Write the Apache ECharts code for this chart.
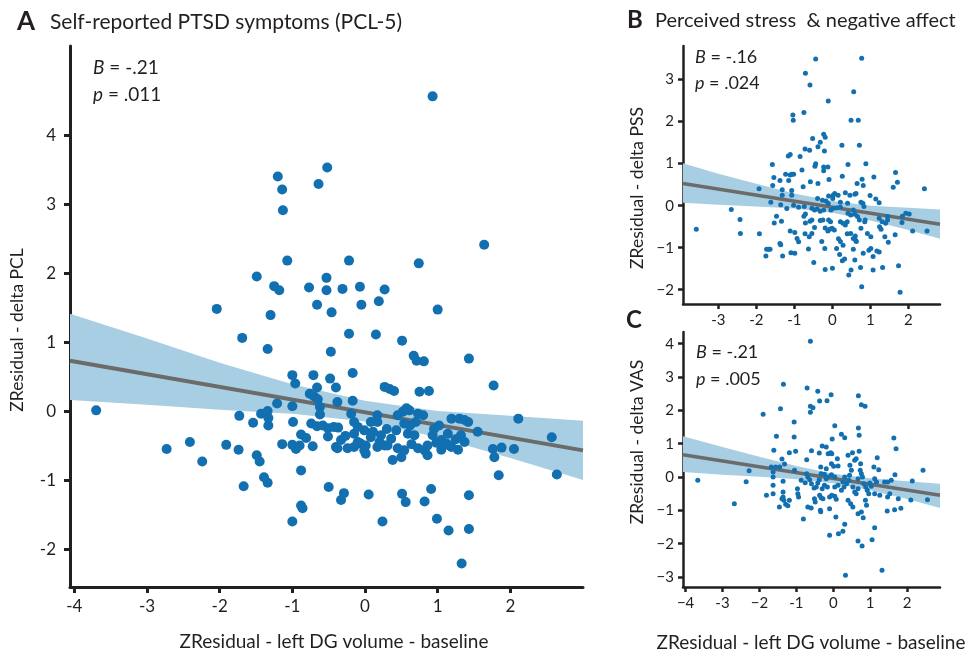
<!DOCTYPE html>
<html><head><meta charset="utf-8">
<script src="https://cdn.jsdelivr.net/npm/echarts@6/dist/echarts.min.js"></script>
<style>html,body{margin:0;padding:0;background:#fff}#c{width:970px;height:655px}</style>
</head><body><div id="c"></div>
<script>
// ---------- DATA ----------
const ptsA = [
[0.93,4.57],[-0.52,3.54],[-1.20,3.41],[-0.64,3.30],[-1.14,3.22],[-1.13,2.92],
[1.64,2.42],[-1.07,2.19],[-0.22,2.19],[0.74,2.15],
[-1.49,1.96],[-0.53,1.94],[-1.25,1.82],[-1.18,1.76],[-0.77,1.80],[-0.53,1.76],[-0.31,1.78],[-0.07,1.81],[0.27,1.77],
[-2.04,1.49],[-1.30,1.40],[-0.66,1.55],[-0.46,1.44],[-0.05,1.55],[0.19,1.60],[1.00,1.48],
[-1.69,1.07],[-1.34,0.91],[-0.47,0.87],[-0.22,1.13],[0.15,1.12],[0.51,1.03],
[0.67,0.81],[0.71,0.74],[0.81,0.73],[1.43,0.77],
[-1.00,0.53],[-0.96,0.41],[-0.71,0.53],[-0.66,0.35],[-0.48,0.48],[-0.40,0.35],[-0.17,0.56],
[-0.76,0.26],[-0.70,0.22],[-0.65,0.18],[-0.62,0.07],[-0.62,-0.04],
[-0.38,0.14],[-0.17,0.16],
[0.27,0.36],[0.34,0.33],[0.40,0.30],[0.75,0.29],[0.88,0.30],[1.77,0.38],
[-1.21,0.12],[-1.00,0.08],[-0.99,-0.15],
[-1.73,-0.06],[-1.54,-0.16],[-1.43,-0.03],[-1.34,0.01],[-1.33,-0.09],[-1.33,-0.20],
[-3.70,0.02],
[-2.73,-0.54],[-2.41,-0.44],[-2.24,-0.72],[-1.91,-0.48],[-1.74,-0.55],
[-1.49,-0.63],[-1.45,-0.72],[-1.67,-1.08],[-1.39,-0.95],[-1.34,-1.03],
[-1.14,-0.47],[-1.00,-0.48],[-0.95,-0.54],[-0.90,-0.49],[-0.88,-0.33],[-0.81,-0.38],[-0.72,-0.50],
[-0.88,-0.85],[-0.88,-1.36],[-0.86,-1.40],[-1.00,-1.59],
[-0.74,-0.17],[-0.66,-0.21],[-0.58,-0.20],[-0.51,-0.24],[-0.51,-0.36],[-0.43,-0.22],[-0.37,-0.23],
[-0.40,-0.51],[-0.33,-0.41],[-0.24,-0.53],[-0.15,-0.51],[-0.06,-0.46],[-0.01,-0.56],[0.01,-0.61],[0.08,-0.37],[0.17,-0.51],[0.27,-0.49],[0.36,-0.39],[0.43,-0.27],
[0.52,0.00],[0.61,0.02],[0.73,-0.03],[0.54,-0.17],[0.59,-0.32],[0.68,-0.34],[0.73,-0.53],[0.82,-0.56],[0.86,-0.63],[0.93,-0.34],
[1.05,-0.41],[1.12,-0.46],[1.19,-0.51],[1.19,-0.10],[1.30,-0.10],[1.37,-0.12],[1.42,-0.15],[1.32,-0.34],[1.37,-0.44],
[0.38,-0.70],[0.50,-0.66],[0.54,-0.56],[1.55,-0.29],
[-0.15,-0.15],[-0.10,-0.22],[-0.01,-0.27],[0.08,-0.15],[0.17,-0.15],[-0.19,-0.03],[-0.15,-0.32],
[1.02,-0.20],[0.86,-0.49],[1.14,-0.32],[1.16,-0.49],
[0.17,-0.05],[0.57,0.05],[0.80,-0.05],[0.11,-0.29],[0.22,-0.34],[0.31,-0.49],[0.45,-0.53],[0.64,-0.47],
[-0.10,-0.44],[0.01,-0.49],[-0.38,-0.53],[0.98,-0.45],[1.25,-0.40],[0.20,-0.44],[0.30,-0.25],[-0.27,-0.35],
[0.45,-0.05],[0.62,-0.20],[0.70,-0.15],[0.95,-0.25],[1.05,-0.55],[1.28,-0.55],
[2.11,-0.10],[2.57,-0.37],[2.64,-0.91],[2.05,-0.54],[1.88,-0.52],[1.76,-0.54],[1.78,-0.66],[1.84,-0.92],
[-0.50,-1.09],[-0.29,-1.18],[-0.33,-1.28],[0.05,-1.20],[0.24,-1.59],[0.51,-1.19],[0.56,-1.31],[0.91,-1.12],[0.82,-1.30],[0.99,-1.55],[1.15,-1.72],[1.43,-1.70],[1.43,-1.21],[1.33,-2.20]
];
const ptsB = [
[-0.44,3.49],[0.77,3.51],[-0.71,3.15],[-0.59,2.87],[0.56,2.71],[-0.11,2.49],[-0.75,2.22],[-1.04,2.16],[-1.03,2.03],[0.49,2.03],[0.68,2.03],
[-0.52,1.60],[-0.23,1.70],[-0.19,1.63],[-0.32,1.51],[-0.38,1.40],[-0.72,1.35],[-0.60,1.32],[-0.21,1.30],[0.25,1.44],[0.71,1.44],
[-1.16,1.18],[-1.11,1.22],[-0.85,1.17],[-1.58,0.98],[-0.46,0.94],[-0.44,1.00],[-0.23,0.92],[-0.12,0.92],[0.41,0.98],[0.88,1.00],
[-0.80,0.85],[-0.23,0.83],[-1.07,0.75],[-1.02,0.75],[-1.11,0.73],[-1.23,0.75],[-1.54,0.67],[-1.38,0.60],[-1.15,0.60],[-0.58,0.57],[-0.38,0.53],[-0.09,0.62],[0.26,0.70],[0.78,0.63],[1.09,0.68],[0.81,0.48],[0.65,0.53],
[-1.57,0.48],[-1.93,0.40],[-0.77,0.45],[1.66,0.79],[1.71,0.56],[1.60,0.44],[2.42,0.40],
[-1.32,0.38],[-1.32,0.25],[-1.07,0.36],[-1.07,0.25],[-1.62,0.08],[-1.36,0.02],[-1.20,-0.07],[-1.02,0.01],[-0.89,-0.04],[-0.74,-0.02],
[-0.39,0.17],[-0.10,0.23],[0.02,0.25],[0.06,0.29],[0.15,0.25],[0.01,0.17],[0.34,0.31],[0.46,0.25],[0.59,0.27],[0.62,0.29],
[0.99,0.24],[1.14,0.16],[1.23,0.07],[0.75,0.08],[0.80,0.06],[0.83,-0.02],[0.21,0.08],[0.40,0.06],[-0.26,0.13],[-0.17,0.11],[-0.11,0.05],
[-0.54,-0.06],[-0.47,-0.10],[-0.40,-0.08],[-0.32,-0.13],[-0.23,-0.10],[-0.04,-0.10],[0.04,-0.06],[0.12,-0.05],[0.21,-0.04],
[0.55,-0.10],[0.59,-0.20],[0.66,-0.26],[0.71,-0.34],[0.85,-0.38],[0.41,-0.18],[0.48,-0.22],[-0.71,-0.20],[-0.75,-0.25],
[-1.47,-0.25],[-1.53,-0.41],[-1.34,-0.37],[-1.11,-0.60],[-0.99,-0.64],[-0.59,-0.37],[-0.54,-0.34],[-0.32,-0.35],[-0.25,-0.34],[-0.10,-0.34],[-0.05,-0.38],
[0.21,-0.38],[0.28,-0.42],[0.34,-0.46],[0.39,-0.38],[-0.19,-0.53],[-0.12,-0.60],[-0.07,-0.56],[-0.01,-0.54],[0.05,-0.58],
[-0.71,-0.41],[-0.72,-0.67],[-0.61,-0.74],[-0.89,-0.86],[-0.93,-0.78],[-1.36,-0.93],[-0.28,-0.85],[-0.20,-1.02],[0.11,-1.02],[0.21,-0.85],[0.28,-0.94],
[0.39,-0.67],[0.48,-0.66],[0.55,-0.78],[0.61,-0.82],[0.63,-0.85],[0.60,-0.72],[0.75,-0.54],[0.86,-0.34],[0.92,-0.66],[1.01,-0.74],
[1.24,-0.50],[1.28,-0.56],[1.23,-0.30],[1.31,-0.38],[1.40,-0.42],[1.38,-0.74],[1.47,-0.87],[1.65,-0.69],[1.83,-0.40],[2.11,-0.60],[2.49,-0.60],
[1.84,-0.25],[1.93,-0.18],[2.02,-0.20],[1.45,-0.26],[1.45,-0.34],[0.96,-1.06],[1.01,-1.02],[1.17,-1.08],[1.23,-1.10],[1.07,-1.21],[0.81,-1.13],[0.55,-1.04],
[0.19,-1.16],[0.32,-1.27],[0.26,-1.31],[0.59,-1.29],[0.49,-1.53],[0.43,-1.65],[0.74,-1.47],[1.07,-1.53],[1.32,-1.47],[1.74,-1.43],[0.77,-1.93],[1.78,-2.06],
[-0.19,-1.52],[0.00,-1.49],[-0.49,-1.35],[-0.63,-1.03],[-1.09,-1.12],[-0.99,-1.13],[-1.38,-0.90],[-1.73,-1.04],[-1.68,-1.04],[-1.64,-1.04],[-1.75,-1.20],[-1.31,-1.20],
[-2.42,-0.66],[-1.92,-0.67],[-2.43,-0.33],[-2.66,-0.09],[-3.58,-0.56],[-0.54,-0.66],[-0.47,-0.52],[0.16,-0.79]
];
const ptsC = [
[-0.62,4.07],[-1.35,2.78],[-0.71,2.67],[-0.42,2.57],[-0.06,2.47],[-0.17,2.29],[-0.37,2.28],[-0.62,2.12],[-0.55,2.08],[-0.62,1.94],
[-1.90,1.88],[-1.43,2.05],[0.68,2.44],[0.76,2.17],[0.86,2.12],[-1.06,1.65],[0.04,1.54],[-1.06,1.20],[-1.54,1.22],[-0.03,1.14],
[0.22,1.28],[0.31,1.18],[0.68,1.47],[0.70,1.25],[1.64,1.17],[1.70,0.85],[-1.61,0.80],[-1.19,0.73],[-1.02,0.77],[-0.59,0.79],
[-0.30,0.93],[-0.19,0.90],[-0.38,0.72],[-0.14,0.70],[-0.07,0.73],[-0.04,0.70],[0.52,0.73],[0.70,0.77],[0.40,0.65],[-0.72,0.52],
[-1.39,0.54],[-1.32,0.39],[-1.68,0.30],[-1.56,0.30],[-1.45,0.30],[-1.63,0.15],[-1.63,0.00],[-2.28,0.19],[-2.36,-0.14],[-3.67,-0.10],
[-2.68,-0.80],[-1.81,-0.55],[-1.63,-0.50],[-1.63,-0.25],[-1.36,-0.13],[-1.36,-0.45],[-1.36,-0.60],[-1.39,-0.65],[-1.34,-0.70],
[-1.46,-0.90],[-1.29,-0.82],[-1.23,-0.86],[-1.19,-0.70],[-1.05,0.20],[-0.97,-0.35],[-0.96,-0.50],[-0.94,-0.60],[-0.81,-1.26],
[-0.87,-0.10],[-0.76,-0.17],[-0.72,0.10],[-0.69,0.00],[-0.64,-0.08],[-0.59,-0.20],[-0.52,-0.33],[-0.46,-0.30],
[-0.69,-0.90],[-0.60,-0.93],[-0.51,-0.65],[-0.49,-0.75],[-0.35,-1.00],[-0.34,-1.04],[-0.42,-0.18],[-0.38,-0.08],
[-0.33,0.10],[-0.24,0.08],[-0.19,-0.05],[-0.34,0.30],[-0.19,0.25],[-0.05,0.40],[0.01,0.32],[0.13,0.33],
[-0.14,0.00],[-0.05,0.07],[0.04,0.00],[-0.30,-0.35],[-0.24,-0.25],[-0.16,-0.30],[-0.37,-0.55],[-0.33,-0.62],[-0.28,-0.65],
[-0.10,-0.60],[-0.04,-0.55],[0.04,-0.58],[0.08,-0.67],[-0.10,-0.95],[0.07,-1.20],[-0.10,-1.75],[0.14,-1.70],[0.26,-1.63],
[0.31,-1.42],[0.33,-2.95],[0.67,-1.92],[0.78,-2.07],[1.05,-1.88],[1.12,-1.52],[1.32,-2.80],
[0.22,-0.40],[0.29,-0.30],[0.36,-0.20],[0.42,-0.10],[0.44,0.05],[0.49,0.20],[0.53,-0.30],[0.58,-0.45],[0.62,-0.50],[0.67,-0.35],
[0.73,0.20],[0.76,0.10],[0.79,0.00],[0.67,-0.05],[0.83,-0.20],[0.88,-0.30],[0.92,-0.40],[0.96,-0.50],[0.87,-0.70],[0.90,-0.85],
[0.67,-1.10],[0.76,-1.05],[0.81,-1.22],[0.47,-0.80],[0.53,-0.90],[0.40,-0.70],[1.10,0.30],[1.23,0.22],[1.12,-0.05],[1.17,-0.15],
[1.03,-0.28],[1.12,-0.50],[1.26,-0.55],[1.19,0.58],[1.39,-0.15],[1.47,-0.15],[1.57,-0.10],[1.67,0.07],[1.53,-0.50],[1.47,-0.60],
[1.46,-1.02],[1.66,-0.98],[1.76,-0.65],[1.83,-0.94],[2.14,-0.12],[2.10,-0.69],[2.43,0.20],[2.55,-0.68],
[0.04,-0.30],[0.13,-0.25],[0.26,-0.15],[0.31,0.00],[0.58,0.50],[0.62,0.55],[0.74,0.40],[0.11,0.55],[0.45,0.35],[0.99,-0.18]
];
// regression lines (end points) and confidence bands
const lineA = [[-4.06,0.74],[3.0,-0.56]];
const bandXA = [-4.06,-3,-2,-1,0,1,2,3.0];
const bandUpA = [1.42,1.06,0.71,0.40,0.16,0.01,-0.06,-0.13];
const bandLoA = [0.17,0.10,0.03,-0.03,-0.14,-0.37,-0.67,-0.99];
const lineB = [[-3.93,0.53],[2.83,-0.44]];
const bandXB = [-3.93,-3,-2,-1,0,1,2,2.83];
const bandUpB = [1.01,0.76,0.52,0.29,0.11,0.00,-0.05,-0.09];
const bandLoB = [0.07,0.02,-0.02,-0.07,-0.17,-0.35,-0.58,-0.79];
const lineC = [[-4.07,0.67],[2.89,-0.55]];
const bandXC = [-4.07,-3,-2,-1,0,1,2,2.89];
const bandUpC = [1.22,0.90,0.61,0.33,0.10,-0.04,-0.13,-0.20];
const bandLoC = [0.15,0.07,0.01,-0.07,-0.19,-0.40,-0.66,-0.93];
// tick values
const ticksAX = [-4,-3,-2,-1,0,1,2];
const ticksAY = [-2,-1,0,1,2,3,4];
const ticksBX = [-3,-2,-1,0,1,2];
const ticksBY = [-2,-1,0,1,2,3];
const ticksCX = [-4,-3,-2,-1,0,1,2];
const ticksCY = [-3,-2,-1,0,1,2,3,4];

// ---------- STYLE ----------
const FONT = 'Lato';
const INK = '#231f20';
const DOT = '#1270b0';
const BAND = '#a8cee3';
const LINE = '#6b6b6b';

const hy = v => (v < 0 ? '-' + Math.abs(v) : String(v));
const mi = v => (v < 0 ? '\u2212' + Math.abs(v) : String(v));
const cx = v => (v === -4 || v === -2 ? '\u2212' + Math.abs(v) : hy(v));

function axis(grid, min, max, ticks, fmt, lw, fs, margin, tl) {
  return {
    gridIndex: grid, type: 'value', min: min, max: max,
    axisLine: {show: true, onZero: false, lineStyle: {color: INK, width: lw}},
    axisTick: {show: true, length: tl, customValues: ticks, lineStyle: {color: INK, width: lw}},
    axisLabel: {customValues: ticks, formatter: fmt, fontSize: fs, color: INK, fontFamily: FONT, margin: margin},
    splitLine: {show: false}
  };
}

function band(i, xs, up, lo) {
  return {
    type: 'custom', xAxisIndex: i, yAxisIndex: i, z: 1, silent: true, clip: true,
    data: [[xs[0], up[0]]],
    renderItem: function (params, api) {
      const pts = [];
      for (let k = 0; k < xs.length; k++) pts.push(api.coord([xs[k], up[k]]));
      for (let k = xs.length - 1; k >= 0; k--) pts.push(api.coord([xs[k], lo[k]]));
      return {type: 'polygon', shape: {points: pts}, style: {fill: BAND}};
    }
  };
}
function reg(i, d, w) {
  return {type: 'line', xAxisIndex: i, yAxisIndex: i, data: d, symbol: 'none', z: 2, silent: true,
    lineStyle: {color: LINE, width: w}};
}
function dots(i, d, s) {
  return {type: 'scatter', xAxisIndex: i, yAxisIndex: i, data: d, symbolSize: s, z: 3, silent: true,
    itemStyle: {color: DOT, opacity: 1}};
}
function txt(x, y, text, size, opts) {
  return Object.assign({type: 'text', x: x, y: y, silent: true,
    style: Object.assign({text: text, fontSize: size, fontFamily: FONT, fill: INK, align: 'left', verticalAlign: 'middle'}, opts && opts.style || {})},
    opts && opts.el || {});
}
function stat(x, y, letter, rest, size) {
  return txt(x, y, '{i|' + letter + '}' + rest, size, {style: {rich: {i: {fontStyle: 'italic', fontSize: size, fontFamily: FONT, fill: INK}}}});
}
const ROT = Math.PI / 2;

const chart = echarts.init(document.getElementById('c'), null, {renderer: 'canvas'});
chart.setOption({
  backgroundColor: '#fff',
  animation: false,
  grid: [
    {left: 70, top: 46, width: 513, height: 541},
    {left: 683, top: 46, width: 257, height: 258},
    {left: 683, top: 332, width: 257, height: 255}
  ],
  xAxis: [
    axis(0, -4.06, 3.0, ticksAX, hy, 3, 17, 11, 6),
    axis(1, -3.93, 2.83, ticksBX, hy, 2.5, 15, 9, 5),
    axis(2, -4.07, 2.89, ticksCX, cx, 2.5, 15, 9, 5)
  ],
  yAxis: [
    axis(0, -2.54, 5.30, ticksAY, hy, 3, 17, 14, 6),
    axis(1, -2.34, 3.80, ticksBY, mi, 2.5, 15, 9, 5),
    axis(2, -3.30, 4.35, ticksCY, mi, 2.5, 15, 9, 5)
  ],
  series: [
    band(0, bandXA, bandUpA, bandLoA), reg(0, lineA, 4), dots(0, ptsA, 10),
    band(1, bandXB, bandUpB, bandLoB), reg(1, lineB, 3.5), dots(1, ptsB, 5),
    band(2, bandXC, bandUpC, bandLoC), reg(2, lineC, 3.5), dots(2, ptsC, 5)
  ],
  graphic: [
    txt(17, 22, 'A', 26, {style: {fontWeight: 'bold'}}),
    txt(50, 22, 'Self-reported PTSD symptoms (PCL-5)', 21),
    txt(627, 20, 'B', 24, {style: {fontWeight: 'bold'}}),
    txt(655, 21, 'Perceived stress  & negative affect', 20),
    txt(626, 320, 'C', 24, {style: {fontWeight: 'bold'}}),
    stat(93, 68, 'B', ' = -.21', 19),
    stat(93, 95, 'p', ' = .011', 19),
    stat(695, 57, 'B', ' = -.16', 18),
    stat(695, 83, 'p', ' = .024', 18),
    stat(696, 352, 'B', ' = -.21', 18),
    stat(696, 379, 'p', ' = .005', 18),
    txt(17, 330, 'ZResidual - delta PCL', 17.5, {style: {align: 'center'}, el: {rotation: ROT}}),
    txt(637, 188, 'ZResidual - delta PSS', 17.5, {style: {align: 'center'}, el: {rotation: ROT}}),
    txt(637, 442, 'ZResidual - delta VAS', 17.5, {style: {align: 'center'}, el: {rotation: ROT}}),
    txt(334, 642, 'ZResidual - left DG volume - baseline', 19, {style: {align: 'center'}}),
    txt(811, 643, 'ZResidual - left DG volume - baseline', 19, {style: {align: 'center'}})
  ]
});
</script></body></html>
